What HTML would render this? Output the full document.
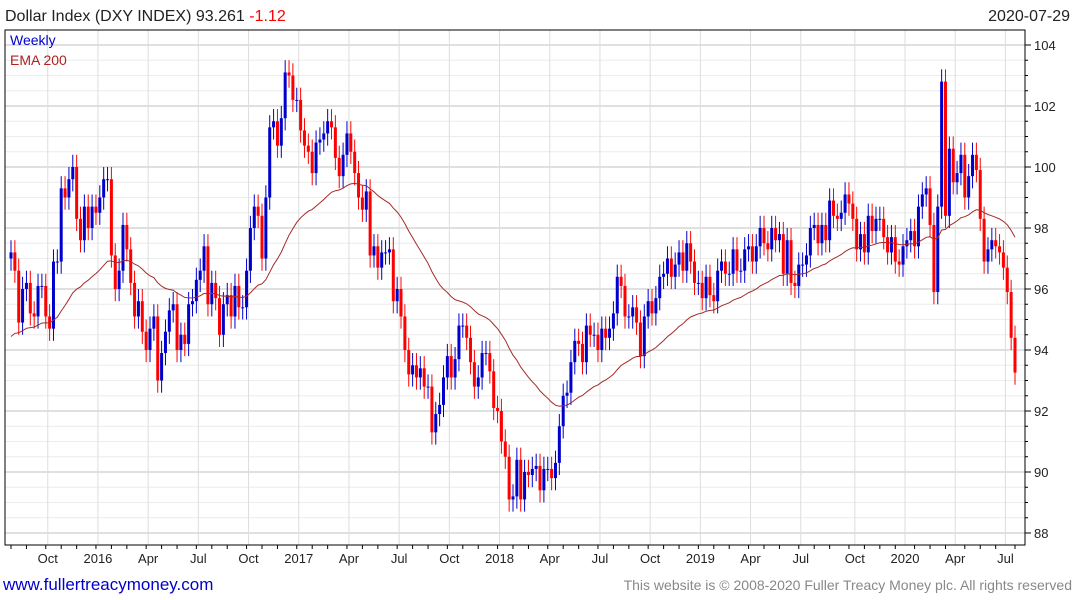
<!DOCTYPE html>
<html><head><meta charset="utf-8"><style>
body{margin:0;background:#fff;font-family:"Liberation Sans",sans-serif;}
#wrap{position:relative;width:1075px;height:600px;overflow:hidden;}
</style></head><body>
<div id="wrap">
<svg id="chart" width="1075" height="600"></svg>
</div>
<script>
const closes=[97.2,96.6,94.9,96.0,96.2,95.2,95.1,96.1,96.1,95.1,94.7,96.9,96.9,99.3,99.0,99.6,100.0,98.3,97.6,98.7,98.0,
98.7,98.5,99.0,99.6,99.6,97.1,96.0,96.6,98.1,97.3,96.2,95.1,95.6,94.6,94.0,94.7,95.1,93.0,93.9,94.6,95.3,95.5,94.0,94.5,94.2,95.5,95.6,96.3,96.6,97.4,95.5,96.2,95.7,94.5,95.5,95.8,95.1,96.1,95.4,95.4,96.6,98.0,98.7,98.4,97.0,99.0,101.3,101.5,100.7,101.6,103.1,103.0,102.2,
102.2,101.2,100.7,100.5,99.8,100.8,100.9,101.1,101.5,101.3,100.3,99.7,100.4,101.1,100.5,99.8,99.0,98.6,99.2,97.1,97.4,96.7,97.2,97.2,97.3,95.6,96.0,95.1,94.0,93.2,93.5,93.1,93.4,92.8,92.8,91.3,91.9,92.2,93.1,93.8,93.1,93.7,94.8,94.8,94.4,93.6,92.8,93.1,93.9,93.9,93.3,92.1,
92.0,91.0,90.5,89.1,89.2,90.4,89.1,90.0,89.9,90.1,90.2,89.4,90.1,90.1,89.8,90.3,91.5,92.5,92.6,93.6,94.3,94.2,93.6,94.8,94.5,94.5,94.0,94.7,94.4,94.7,95.2,96.4,96.1,95.1,95.1,95.4,94.9,93.8,95.1,95.6,95.2,95.7,96.4,96.5,97.0,96.4,96.8,97.2,96.6,97.5,96.9,96.2,
96.2,95.7,96.4,95.8,95.6,96.6,96.9,96.5,96.5,97.3,96.6,96.6,97.3,97.4,96.9,97.4,98.0,97.5,97.3,98.0,97.6,97.8,96.5,97.6,96.2,96.1,96.8,96.8,97.1,98.0,98.1,97.5,98.1,97.6,98.9,98.4,98.3,98.5,99.1,98.8,98.3,97.3,97.8,97.2,98.4,97.9,98.3,98.3,97.7,97.2,97.7,96.9,
96.8,97.4,97.6,97.9,97.4,98.7,99.1,99.3,98.1,95.9,98.7,102.8,98.4,100.6,99.5,99.8,100.4,99.0,99.7,100.4,99.9,98.3,96.9,97.3,97.6,97.4,97.2,96.7,95.9,94.4,93.26];
const firstOpen=97.0;
const emaSeed=94.3;
const yTicks=[88,90,92,94,96,98,100,102,104];
const xLabels=["Oct","2016","Apr","Jul","Oct","2017","Apr","Jul","Oct","2018","Apr","Jul","Oct","2019","Apr","Jul","Oct","2020","Apr","Jul"];
const xLabelWeeks=[9,22,35,48,61,74,87,100,113,126,139,152,165,178,191,204,218,231,244,257];

const svg=document.getElementById('chart');
const NS='http://www.w3.org/2000/svg';
const L=5,R=1025,T=30,B=545;
const n=closes.length;
function xs(i){return 11+i*(1004/(n-1));}
function ys(v){return 45+(104-v)*30.5;}
function mk(tag,attrs,parent){const e=document.createElementNS(NS,tag);for(const k in attrs)e.setAttribute(k,attrs[k]);(parent||svg).appendChild(e);return e;}

for(let v=88;v<=104.01;v+=0.5){
  const major=Math.abs(v%2)<0.01;
  const g=mk('line',{x1:L,x2:R,y1:ys(v),y2:ys(v),stroke:major?'#c0c0c0':'#ececec','stroke-width':1});
  
  
}
xLabelWeeks.forEach((w,k)=>{
  const x=xs(w)+2;
  const g=mk('line',{x1:x,x2:x,y1:T,y2:B,stroke:'#dddddd','stroke-width':1});
  
  
  const t=mk('text',{x:x,y:563,'font-size':13,'text-anchor':'middle',fill:'#222'});
  t.textContent=xLabels[k];
  
  
});
const fr=mk('rect',{x:L,y:T,width:R-L,height:B-T,fill:'none',stroke:'#000','stroke-width':1});


for(let v=88;v<=104.01;v+=0.5){
  const tk=mk('line',{x1:R,x2:R+(Math.abs(v%2)<0.01?6:3),y1:ys(v),y2:ys(v),stroke:'#000'});
  
  
}
for(let i=0;i<n;i+=4.33){
  const tk=mk('line',{x1:xs(Math.round(i)),x2:xs(Math.round(i)),y1:B,y2:B+4,stroke:'#000'});
  
  
}
yTicks.forEach(v=>{
  const t=mk('text',{x:1034,y:ys(v)+5,'font-size':13,fill:'#222'});
  t.textContent=v;
  
  
});
let prev=firstOpen;
for(let i=0;i<n;i++){
  const o=prev,c=closes[i];prev=c;
  const up=c>=o,col=up?'#0000cc':'#ff0000';
  const hi=Math.max(o,c)+0.4,lo=Math.min(o,c)-0.4;
  const x=xs(i);
  const w=mk('line',{x1:x,x2:x,y1:ys(hi),y2:ys(lo),stroke:col,'stroke-width':1});
  
  
  const top=ys(Math.max(o,c)),h=Math.max(1,ys(Math.min(o,c))-top);
  const b=mk('rect',{x:x-1.5,y:top,width:3,height:h,fill:col});
  
  
}
let e=emaSeed,pts=[];const a=2/41;
for(let i=0;i<n;i++){e=e+a*(closes[i]-e);pts.push(xs(i).toFixed(1)+','+ys(e).toFixed(1));}
const ema=mk('polyline',{points:pts.join(' '),fill:'none',stroke:'#a52a2a','stroke-width':1});



function txt(x,y,s,size,fill,name,anchor,inter){const t=mk('text',{x:x,y:y,'font-size':size,fill:fill,'text-anchor':anchor||'start'});t.textContent=s;return t;}
const title=mk('text',{x:5,y:21,'font-size':16,fill:'#222'});


title.innerHTML='Dollar Index (DXY INDEX) 93.261 <tspan fill="#ff0000">-1.12</tspan>';
txt(1070,21,'2020-07-29',16,'#222','chart-date','end');
txt(10,45,'Weekly',14,'#0000cc','legend-weekly');
txt(10,65,'EMA 200',14,'#b02020','legend-ema-200');
txt(3,590,'www.fullertreacymoney.com',17,'#0000cc','website-link','start',true);
txt(1072,590,'This website is © 2008-2020 Fuller Treacy Money plc. All rights reserved',14,'#888','copyright-notice','end');
</script>
</body></html>
